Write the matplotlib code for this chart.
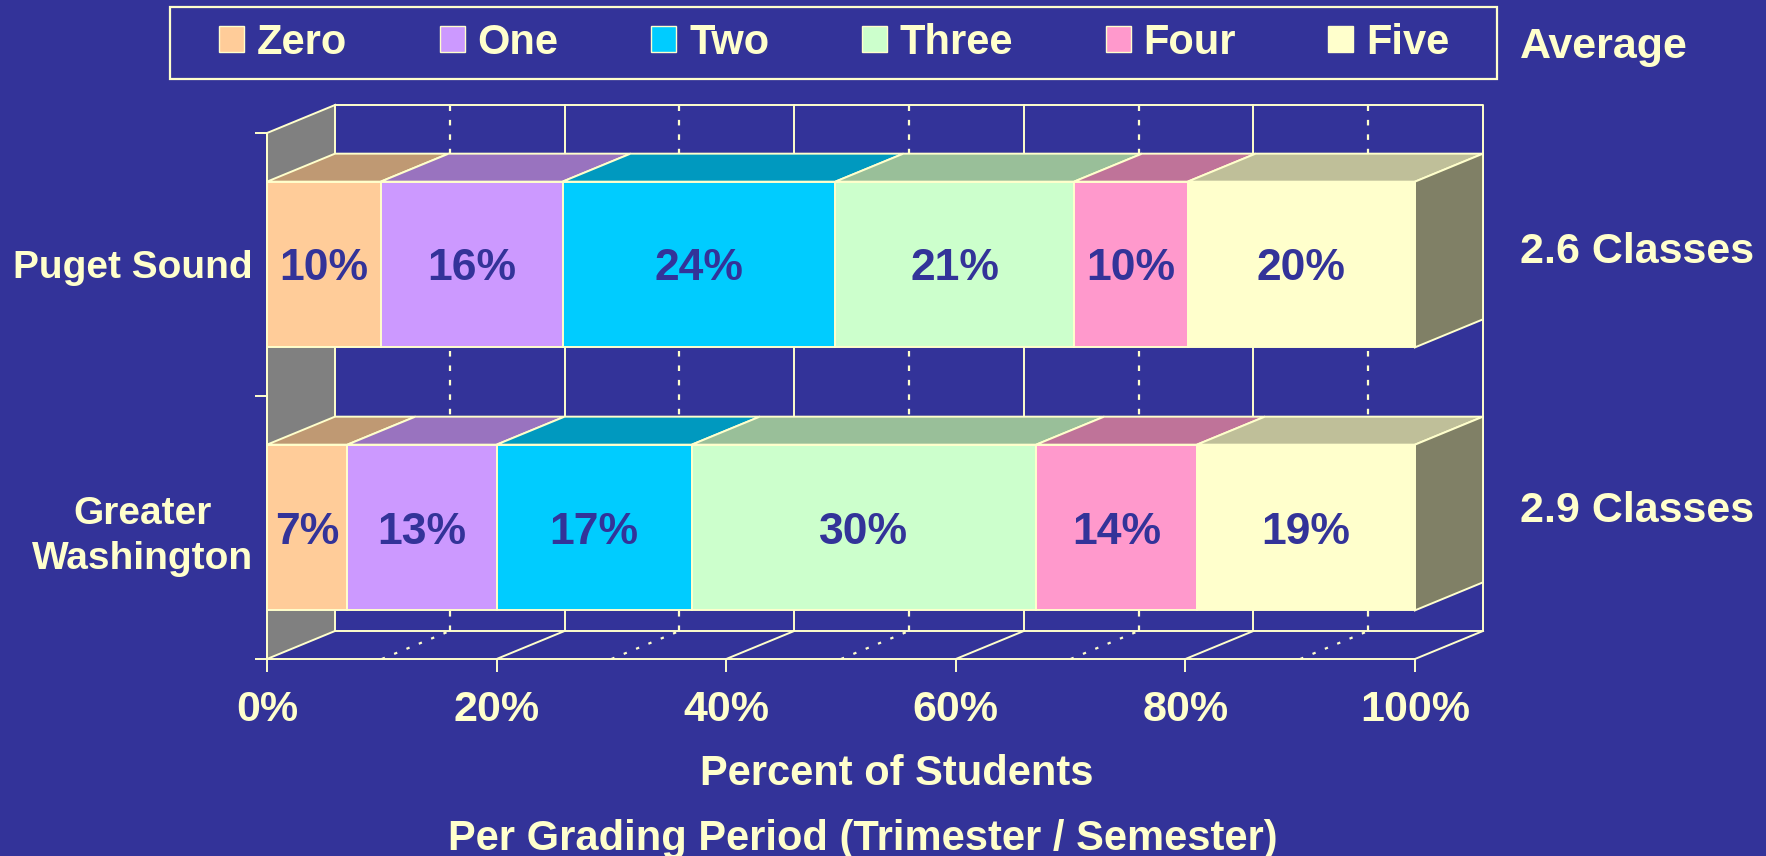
import matplotlib
matplotlib.use("Agg")
import matplotlib.pyplot as plt
from matplotlib.patches import Polygon, Rectangle, Patch
from matplotlib.colors import to_rgb

plt.rcParams['font.family'] = ['Liberation Sans', 'DejaVu Sans']
plt.rcParams['font.weight'] = 'bold'

# data
categories = ['Greater\nWashington', 'Puget Sound']
series = ['Zero', 'One', 'Two', 'Three', 'Four', 'Five']
greater = [7, 13, 17, 30, 14, 19]
puget = [10, 16, 24, 21, 10, 20]
averages = ['2.9 Classes', '2.6 Classes']
colors = ['#FFCC99', '#CC99FF', '#00CCFF', '#CCFFCC', '#FF99CC', '#FFFFCC']
xticks = [0, 20, 40, 60, 80, 100]
xticklabels = ['0%', '20%', '40%', '60%', '80%', '100%']

BG = '#333399'
FG = '#FFFFCC'
W, H = 1766, 856
LW = 1.4


def fx(x):
    return x / W


def fy(y):
    return 1 - y / H


def shade(c, k):
    r, g, b = to_rgb(c)
    return (r * k, g * k, b * k)


fig = plt.figure(figsize=(W / 100, H / 100), dpi=100, facecolor=BG)
ax = fig.add_axes([fx(267), fy(659), 1148 / W, 526 / H])
ax.set_xlim(0, 100)
ax.set_ylim(0, 2)
ax.set_facecolor('none')

# depth of the fake 3d box in data units
DX = 68 / 1148 * 100
DY = 28 / 526 * 2
BH = 0.63
top = len(categories)

# left wall
ax.add_patch(Polygon([(0, 0), (DX, DY), (DX, top + DY), (0, top)], closed=True,
                     fc='#808080', ec=FG, lw=LW, clip_on=False, zorder=1))

# back wall outline and floor
ax.plot([DX, 100 + DX, 100 + DX, DX], [top + DY, top + DY, DY, DY], color=FG, lw=LW,
        clip_on=False, zorder=1)
for x in xticks[1:]:
    ax.plot([x, x + DX], [0, DY], color=FG, lw=LW, clip_on=False, zorder=1)
    if x < 100:
        ax.plot([x + DX, x + DX], [DY, top + DY], color=FG, lw=LW, clip_on=False, zorder=1)
for x in range(10, 100, 20):
    ax.plot([x + DX, x + DX], [DY, top + DY], color=FG, lw=1.6, ls=(0, (2.5, 4)),
            clip_on=False, zorder=1)
    ax.plot([x, x + DX], [0, DY], color=FG, lw=1.6, ls=(0, (1.5, 4.5)),
            clip_on=False, zorder=1)

# bars
for i, vals in enumerate([greater, puget]):
    total = sum(vals)
    yb = i + 0.5 - BH / 2
    yt = yb + BH
    left = 0
    for j, v in enumerate(vals):
        w = v / total * 100
        r = left + w
        ax.add_patch(Polygon([(left, yt), (r, yt), (r + DX, yt + DY), (left + DX, yt + DY)],
                             closed=True, fc=shade(colors[j], 0.75), ec=FG, lw=LW,
                             clip_on=False, zorder=3))
        ax.add_patch(Rectangle((left, yb), w, BH, fc=colors[j], ec=FG, lw=LW,
                               clip_on=False, zorder=4))
        ax.text(left + w / 2, i + 0.5, f'{v}%', ha='center', va='center_baseline',
                color=BG, fontsize=32, zorder=5)
        left = r
    ax.add_patch(Polygon([(100, yb), (100 + DX, yb + DY), (100 + DX, yt + DY), (100, yt)],
                         closed=True, fc=shade(colors[-1], 0.5), ec=FG, lw=LW,
                         clip_on=False, zorder=3))

# axes
for k in ['top', 'right']:
    ax.spines[k].set_visible(False)
for k in ['left', 'bottom']:
    ax.spines[k].set_color(FG)
    ax.spines[k].set_linewidth(LW)
    ax.spines[k].set_zorder(2)
ax.set_xticks(xticks)
ax.set_xticklabels(xticklabels)
ax.tick_params(axis='x', colors=FG, length=9, width=LW, pad=13, labelsize=31)
ax.set_yticks([0.5, 1.5])
ax.set_yticklabels(categories, multialignment='center', linespacing=1.35)
ax.set_yticks(range(top + 1), minor=True)
ax.tick_params(axis='y', which='major', length=0, pad=10, labelsize=28, colors=FG)
ax.tick_params(axis='y', which='minor', length=9, width=LW, colors=FG)

fig.text(fx(897), fy(785), 'Percent of Students', ha='center', va='baseline',
         color=FG, fontsize=30)
fig.text(fx(863), fy(850), 'Per Grading Period (Trimester / Semester)', ha='center',
         va='baseline', color=FG, fontsize=30)

# average column
fig.text(fx(1520), fy(58), 'Average', ha='left', va='baseline', color=FG, fontsize=31)
for lab, yb in zip(averages, [522, 263]):
    fig.text(fx(1520), fy(yb), lab, ha='left', va='baseline', color=FG, fontsize=31)

# legend
handles = [Patch(fc=c, ec=FG, lw=1) for c in colors]
leg = fig.legend(handles, series, ncol=6, loc='center left',
                 bbox_to_anchor=(fx(219), fy(43)), frameon=False, fontsize=30,
                 labelcolor=FG, handlelength=0.6, handleheight=0.58,
                 handletextpad=0.31, columnspacing=2.22, borderpad=0,
                 borderaxespad=0)
fig.patches.append(Rectangle((fx(170), fy(79)), fx(1497) - fx(170), fy(7) - fy(79),
                             transform=fig.transFigure, fill=False, ec=FG, lw=1.6))

fig.savefig('out.png', dpi=100, facecolor=BG)
